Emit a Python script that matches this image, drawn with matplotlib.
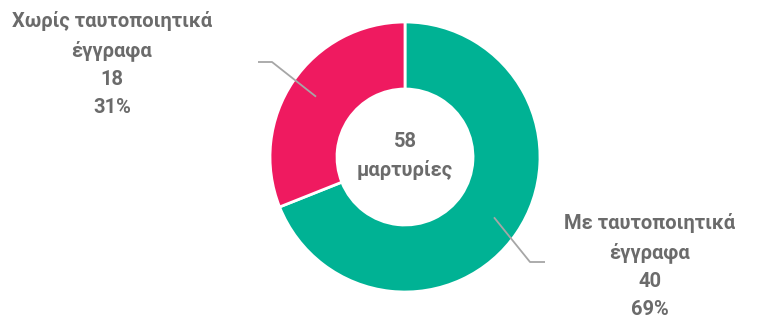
import numpy as np
import matplotlib.pyplot as plt

labels = ["Με ταυτοποιητικά\nέγγραφα", "Χωρίς ταυτοποιητικά\nέγγραφα"]
counts = [40, 18]
colors = ["#00B294", "#EF1A60"]
total_label = "μαρτυρίες"

W, H = 763, 323
cx, cy = 405, H - 157
radius = 135
ring = 67
text_color = "#6B6B6B"
line_color = "#A6A6A6"
font = ["Roboto", "DejaVu Sans"]

fig = plt.figure(figsize=(W / 100, H / 100), dpi=100)
ax = fig.add_axes([0, 0, 1, 1])

wedges, _ = ax.pie(counts, colors=colors, startangle=90, counterclock=False,
                   center=(cx, cy), radius=radius,
                   wedgeprops=dict(width=ring, edgecolor="white", linewidth=2))
ax.set_xlim(0, W)
ax.set_ylim(0, H)
ax.set_aspect("equal")
ax.axis("off")

total = sum(counts)
ax.text(cx, cy + 1, f"{total}\n{total_label}", ha="center", va="center",
        fontsize=14.5, fontweight="bold", color=text_color, family=font,
        linespacing=1.55)

# label blocks with leader lines: (text centre, elbow, end of horizontal)
spots = [((650, H - 266), (530, H - 262), (545, H - 262)),
         ((112, H - 64), (272, H - 62), (258, H - 62))]

for w, lab, n, (tpos, elbow, tail) in zip(wedges, labels, counts, spots):
    mid = np.deg2rad((w.theta1 + w.theta2) / 2)
    r = radius - ring / 2 + 6
    start = (cx + r * np.cos(mid), cy + r * np.sin(mid))
    ax.plot([start[0], elbow[0], tail[0]], [start[1], elbow[1], tail[1]],
            color=line_color, linewidth=1.3, solid_capstyle="butt")
    pct = round(100 * n / total)
    ax.text(tpos[0], tpos[1], f"{lab}\n{n}\n{pct}%", ha="center", va="center",
            fontsize=14.5, fontweight="bold", color=text_color, family=font,
            linespacing=1.58)

fig.savefig("out.png", dpi=100)
